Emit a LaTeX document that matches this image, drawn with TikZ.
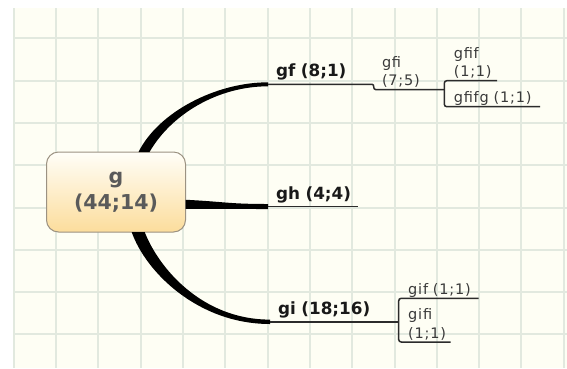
\documentclass[tikz,border=0pt]{standalone}
\usepackage{fontspec}
\setmainfont{DejaVu Sans}
\newfontfamily\subfont[LetterSpace=5.5]{DejaVu Sans}

\definecolor{paper}{HTML}{FEFEF4}
\definecolor{gridgreen}{HTML}{E2E9DF}
\definecolor{linkgray}{HTML}{2B2B2B}
\definecolor{rootedge}{HTML}{9C9282}
\definecolor{roottop}{HTML}{FFFEF8}
\definecolor{rootmid}{HTML}{FEEBC2}
\definecolor{rootbottom}{HTML}{FCDD9C}
\definecolor{roottext}{HTML}{5A5A5A}
\definecolor{subtext}{HTML}{3A3A3A}

\tikzset{
  gridline/.style={draw=gridgreen, line width=2pt},
  branch/.style={fill=black},
  link/.style={draw=linkgray, line width=1.5pt},
  root/.style={draw=rootedge, line width=1pt, rounded corners=12pt,
    top color=roottop, middle color=rootmid, bottom color=rootbottom,
    minimum width=139pt, minimum height=80pt, inner sep=0pt, outer sep=0pt,
    align=center, text=roottext, font=\bfseries\fontsize{20.5}{26}\selectfont},
  topic/.style={anchor=south west, inner xsep=0pt, inner ysep=3.5pt, outer sep=0pt,
    text width=#1, align=left, text=black!90,
    font=\bfseries\fontsize{16.8}{20}\selectfont,
    execute at begin node={\leftskip=8pt\relax},
    execute at end node={\rule[-4pt]{0pt}{4pt}}},
  subtopic/.style={anchor=south west, inner xsep=0pt, inner ysep=0.5pt, outer sep=0pt,
    text width=#1, align=left, text=subtext,
    font=\subfont\fontsize{14.5}{18.5}\selectfont,
    execute at begin node={\leftskip=9.5pt\relax},
    execute at end node={\rule[-3.5pt]{0pt}{3.5pt}}},
}

\begin{document}
\begin{tikzpicture}[x=1pt, y=-1pt]
        \useasboundingbox (0,0) rectangle (567,368);

        % Paper and grid
        \fill[paper] (13,8) rectangle (567,368);
        \foreach \i in {0,...,13}
            \draw[gridline] ({round(13.8+42.3*\i)},8) -- ({round(13.8+42.3*\i)},368);
        \foreach \j in {0,...,7}
            \draw[gridline] (13,{round(38.3+42.3*\j)}) -- (567,{round(38.3+42.3*\j)});

        % Central topic
        \node[root] (root) at (116,192) {g\\(44;14)};

        % Main topics
        \node[topic=104pt] (gf) at (268,84.3) {gf (8;1)};
        \node[topic=90pt] (gh) at (268,206.5) {gh (4;4)};
        \node[topic=128.3pt] (gi) at (270,321.8) {gi (18;16)};

        % Subtopics
        \node[subtopic=68.8pt, execute at begin node={\leftskip=6.5pt\relax}] (gfi) at (375.5,89.5) {gfi\\(7;5)};
        \node[subtopic=52.7pt] (gfif) at (444.3,80.7) {gfif\\(1;1)};
        \node[subtopic=95.7pt] (gfifg) at (444.3,106.7) {gfifg (1;1)};
        \node[subtopic=80pt] (gif) at (398.7,298.3) {gif (1;1)};
        \node[subtopic=52pt] (gifi) at (398.7,342) {gifi\\(1;1)};

        % Thick branches out of the central topic
        \fill[branch] ([shift={(-5.5,0)}]root.55) .. controls +(20,-40) and +(-52,0) .. ([shift={(0,-2)}]gf.south west)
            -- ([shift={(0,2)}]gf.south west) .. controls +(-50,0) and +(22,-38) .. ([shift={(5.5,0)}]root.55) -- cycle;
        \fill[branch] ([shift={(0,-4.5)}]root.-10) .. controls +(40,2) and +(-40,0) .. ([shift={(0,-2.5)}]gh.south west)
            -- ([shift={(0,2.5)}]gh.south west) .. controls +(-40,0) and +(40,0) .. ([shift={(0,4.5)}]root.-10) -- cycle;
        \fill[branch] ([shift={(-6.5,0)}]root.-61) .. controls +(14,40) and +(-72,0) .. ([shift={(0,2.2)}]gi.south west)
            -- ([shift={(0,-2.2)}]gi.south west) .. controls +(-68,0) and +(14,36) .. ([shift={(6.5,0)}]root.-61) -- cycle;

        % Underlines and brackets
        \draw[link] (gf.south west) -- (gf.south east) .. controls +(3,0) and +(-3,0) .. (gfi.south west) -- (gfi.south east);
        \draw[link] (gh.south west) -- (gh.south east);
        \draw[link] (gi.south west) -- (gi.south east);
        \draw[link, rounded corners=2.5pt] (gfif.south east) -- (gfif.south west) -- (gfifg.south west) -- (gfifg.south east);
        \draw[link, rounded corners=2.5pt] (gif.south east) -- (gif.south west) -- (gifi.south west) -- (gifi.south east);
\end{tikzpicture}
\end{document}
